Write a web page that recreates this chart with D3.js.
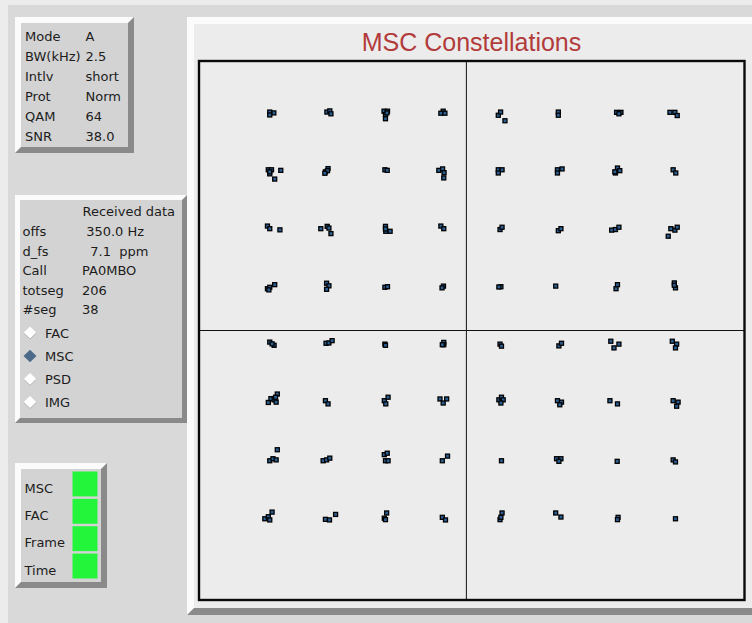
<!DOCTYPE html>
<html><head><meta charset="utf-8">
<script src="https://cdn.jsdelivr.net/npm/d3@7"></script>
<style>
html,body{margin:0;padding:0;background:#d9d9d9;overflow:hidden}
svg{display:block}
text{font-family:"DejaVu Sans",sans-serif;font-size:13px;fill:#1c1c1c;white-space:pre}
</style></head><body>
<svg id="c" width="752" height="623"></svg>
<script>
// ---------- data ----------
const modeLabels = ["Mode","BW(kHz)","Intlv","Prot","QAM","SNR"];
const modeValues = ["A","2.5","short","Norm","64","38.0"];
const rxHeader = "Received data";
const rxLabels = ["offs","d_fs","Call","totseg","#seg"];
const rxValues = [" 350.0 Hz","  7.1  ppm","PA0MBO","206","38"];
const radioLabels = ["FAC","MSC","PSD","IMG"];
const radioSelected = "MSC";
const statusLabels = ["MSC","FAC","Frame","Time"];
const statusOk = [true,true,true,true];
const chartTitle = "MSC Constellations";
const xDomain = [-9.22, 9.59];
const yDomain = [-9.29, 9.29];

// received 64-QAM symbols, [I, Q]
const symQ1 = [ // upper-left
 [-6.78,7.53],[-6.64,7.50],[-6.78,7.43],
 [-4.81,7.53],[-4.71,7.57],[-4.67,7.47],
 [-2.84,7.56],[-2.72,7.56],[-2.79,7.44],[-2.79,7.30],[-2.74,7.50],
 [-0.80,7.56],[-0.88,7.49],[-0.74,7.49],
 [-6.83,5.54],[-6.72,5.54],[-6.78,5.40],[-6.40,5.52],[-6.61,5.22],[-6.78,5.47],
 [-4.86,5.47],[-4.77,5.58],[-4.79,5.51],[-4.88,5.42],
 [-2.81,5.54],[-2.73,5.52],
 [-0.95,5.52],[-0.82,5.57],[-0.77,5.44],[-0.78,5.26],
 [-6.86,3.60],[-6.78,3.51],[-6.43,3.47],
 [-5.02,3.51],[-4.80,3.59],[-4.74,3.53],[-4.67,3.34],
 [-2.79,3.59],[-2.78,3.42],[-2.63,3.42],[-2.79,3.50],
 [-0.88,3.60],[-0.78,3.51],
 [-6.86,1.44],[-6.78,1.49],[-6.61,1.58],[-6.81,1.40],
 [-4.82,1.63],[-4.74,1.54],[-4.82,1.42],
 [-2.81,1.49],[-2.72,1.51],
 [-0.79,1.53],[-0.84,1.47]
];
const symQ2 = [ // upper-right
 [1.10,7.42],[1.18,7.53],[1.33,7.23],
 [3.17,7.53],[3.17,7.42],
 [5.18,7.52],[5.33,7.52],[5.26,7.47],
 [7.02,7.52],[7.19,7.52],[7.27,7.41],
 [1.10,5.54],[1.23,5.54],[1.10,5.43],
 [3.14,5.54],[3.30,5.57],[3.14,5.43],
 [5.14,5.43],[5.21,5.60],[5.29,5.51],[5.12,5.47],
 [7.13,5.54],[7.22,5.43],
 [1.16,3.48],[1.23,3.56],
 [3.17,3.44],[3.26,3.51],
 [5.01,3.46],[5.14,3.48],[5.26,3.56],
 [7.05,3.51],[7.19,3.46],[7.27,3.56],[6.96,3.25],
 [1.19,1.51],[1.12,1.50],
 [3.08,1.53],
 [5.21,1.58],[5.16,1.44],
 [7.17,1.64],[7.21,1.47],[7.17,1.56]
];
const symQ3 = [ // lower-left
 [-6.78,-0.40],[-6.63,-0.51],[-6.70,-0.46],
 [-4.84,-0.44],[-4.74,-0.43],[-4.63,-0.35],
 [-2.81,-0.47],[-2.79,-0.51],
 [-0.78,-0.41],[-0.78,-0.49],[-0.83,-0.49],
 [-6.83,-2.48],[-6.74,-2.35],[-6.63,-2.39],[-6.56,-2.47],[-6.52,-2.19],[-6.58,-2.30],
 [-4.86,-2.42],[-4.77,-2.53],
 [-2.83,-2.42],[-2.70,-2.30],[-2.78,-2.53],
 [-0.91,-2.36],[-0.68,-2.36],[-0.80,-2.50],
 [-6.78,-4.49],[-6.67,-4.42],[-6.56,-4.46],[-6.52,-4.11],
 [-4.94,-4.49],[-4.82,-4.46],[-4.71,-4.40],
 [-2.83,-4.28],[-2.73,-4.23],[-2.79,-4.49],[-2.70,-4.49],
 [-0.83,-4.49],[-0.65,-4.33],
 [-6.95,-6.49],[-6.83,-6.42],[-6.78,-6.53],[-6.70,-6.26],
 [-4.86,-6.51],[-4.72,-6.53],[-4.51,-6.34],
 [-2.83,-6.47],[-2.75,-6.29],[-2.79,-6.52],
 [-0.83,-6.44],[-0.72,-6.53]
];
const symQ4 = [ // lower-right
 [1.16,-0.47],[1.21,-0.54],
 [3.19,-0.53],[3.28,-0.44],
 [4.98,-0.37],[5.26,-0.47],[5.09,-0.60],
 [7.10,-0.37],[7.25,-0.47],[7.21,-0.60],
 [1.12,-2.39],[1.21,-2.30],[1.27,-2.39],[1.19,-2.50],
 [3.14,-2.42],[3.28,-2.47],[3.22,-2.56],
 [4.95,-2.42],[5.21,-2.53],
 [7.13,-2.42],[7.30,-2.47],[7.25,-2.61],
 [1.21,-4.49],
 [3.11,-4.42],[3.26,-4.42],[3.19,-4.51],
 [5.20,-4.51],
 [7.13,-4.46],[7.21,-4.53],
 [1.23,-6.29],[1.16,-6.52],[1.19,-6.44],
 [3.08,-6.29],[3.26,-6.43],
 [5.23,-6.44],[5.21,-6.52],
 [7.21,-6.49]
];

// ---------- drawing ----------
const svg = d3.select("#c");
const LIGHT = "#fbfbfb", DARK = "#8a8a8a";

svg.append("rect").attr("x",0).attr("y",0).attr("width",752).attr("height",623).attr("fill","#ececec");
svg.append("rect").attr("x",8).attr("y",5).attr("width",744).attr("height",618).attr("fill","#d9d9d9");

function panel(x,y,w,h,b,face){
  const g = svg.append("g");
  g.append("polygon").attr("fill",LIGHT).attr("points",
    [[x,y],[x+w,y],[x+w-b,y+b],[x+b,y+b],[x+b,y+h-b],[x,y+h]].map(p=>p.join(",")).join(" "));
  g.append("polygon").attr("fill",DARK).attr("points",
    [[x+w,y],[x+w,y+h],[x,y+h],[x+b,y+h-b],[x+w-b,y+h-b],[x+w-b,y+b]].map(p=>p.join(",")).join(" "));
  g.append("rect").attr("x",x+b).attr("y",y+b).attr("width",w-2*b).attr("height",h-2*b).attr("fill",face);
  return g;
}

// Panel 1: mode info
const p1 = panel(15,17,119,136,6,"#d3d3d3");
const rowY1 = d3.scalePoint().domain(modeLabels).range([41,141]);
p1.selectAll("text.l").data(modeLabels).join("text").attr("class","l")
  .attr("x",25).attr("y",d=>rowY1(d)).text(d=>d);
p1.selectAll("text.v").data(modeValues).join("text").attr("class","v")
  .attr("x",85.5).attr("y",(d,i)=>rowY1(modeLabels[i])).text(d=>d);

// Panel 2: received data
const p2 = panel(15,195,172,228,5,"#d3d3d3");
p2.append("text").attr("x",82.5).attr("y",216).text(rxHeader);
const rowY2 = d3.scalePoint().domain(rxLabels).range([236,314]);
p2.selectAll("text.l").data(rxLabels).join("text").attr("class","l")
  .attr("x",22.5).attr("y",d=>rowY2(d)).text(d=>d);
p2.selectAll("text.v").data(rxValues).join("text").attr("class","v")
  .attr("x",82).attr("y",(d,i)=>rowY2(rxLabels[i])).text(d=>d);
const rowR = d3.scalePoint().domain(radioLabels).range([337.5,407]);
radioLabels.forEach(lab=>{
  const cy = rowR(lab)-4.7, cx = 30, hw = 6.5, hh = 6.2;
  const sel = lab===radioSelected;
  p2.append("polygon")
    .attr("points",[[cx,cy-hh],[cx+hw,cy],[cx,cy+hh],[cx-hw,cy]].map(p=>p.join(",")).join(" "))
    .attr("fill", sel ? "#4c6b8a" : "#ffffff");
  if(!sel){
    p2.append("polyline")
      .attr("points",[[cx+hw,cy],[cx,cy+hh],[cx-hw,cy]].map(p=>p.join(",")).join(" "))
      .attr("fill","none").attr("stroke","#b4b4b4").attr("stroke-width",1);
  }
  p2.append("text").attr("x",45).attr("y",rowR(lab)).text(lab);
});

// Panel 3: status
const p3 = panel(15,463,92,125,6,"#d3d3d3");
const rowS = d3.scaleBand().domain(statusLabels).range([471.5,578.5]).paddingInner(0.09);
p3.selectAll("rect.s").data(statusLabels).join("rect").attr("class","s")
  .attr("x",72.5).attr("y",d=>rowS(d)).attr("width",25).attr("height",rowS.bandwidth())
  .attr("fill",(d,i)=>statusOk[i] ? "#23f53a" : "#f52323");
p3.selectAll("text.s").data(statusLabels).join("text").attr("class","s")
  .attr("x",24.5).attr("y",d=>rowS(d)+rowS.bandwidth()/2+8.6).text(d=>d);

// Main chart panel
panel(187,17,620,598,7,"#ececec");
svg.append("text").attr("x",471.5).attr("y",50.5).attr("text-anchor","middle")
  .style("font-family","'Liberation Sans',Arial,sans-serif").style("font-size","25px")
  .style("fill","#b23b3b").text(chartTitle);

const x = d3.scaleLinear().domain(xDomain).range([199,744.5]);
const y = d3.scaleLinear().domain(yDomain).range([600,61]);

const plot = svg.append("g");
plot.append("line").attr("x1",x(0)).attr("x2",x(0)).attr("y1",y(yDomain[1])).attr("y2",y(yDomain[0]))
  .attr("stroke","#111").attr("stroke-width",1);
plot.append("line").attr("x1",x(xDomain[0])).attr("x2",x(xDomain[1])).attr("y1",y(0)).attr("y2",y(0))
  .attr("stroke","#111").attr("stroke-width",1);

const symbols = symQ1.concat(symQ2, symQ3, symQ4);
plot.selectAll("rect.pt").data(symbols).join("rect").attr("class","pt")
  .attr("x",d=>x(d[0])-2).attr("y",d=>y(d[1])-2).attr("width",4).attr("height",4)
  .attr("fill","#2a5f94").attr("stroke","#000").attr("stroke-width",1.3);

plot.append("rect").attr("x",x(xDomain[0])).attr("y",y(yDomain[1]))
  .attr("width",x(xDomain[1])-x(xDomain[0])).attr("height",y(yDomain[0])-y(yDomain[1]))
  .attr("fill","none").attr("stroke","#0a0a0a").attr("stroke-width",2.4);
</script>
</body></html>
